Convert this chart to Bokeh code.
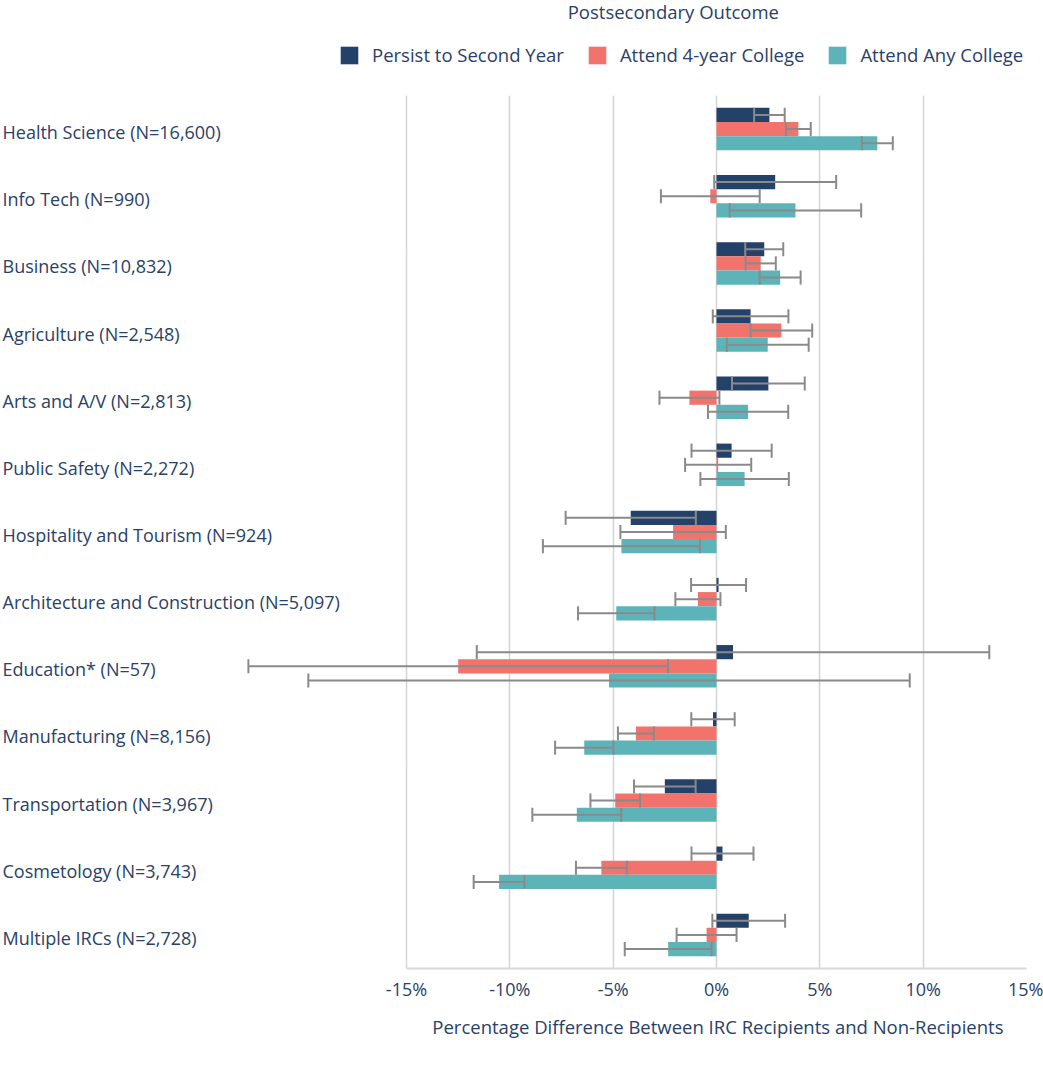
from bokeh.plotting import figure
from bokeh.layouts import column
from bokeh.models import (ColumnDataSource, FactorRange, Range1d, FixedTicker, PrintfTickFormatter,
                          Legend, LegendItem, Title)
from bokeh.core.properties import value
from bokeh.transform import dodge
from bokeh.embed import file_html
from bokeh.resources import INLINE

categories = ["Health Science (N=16,600)", "Info Tech (N=990)", "Business (N=10,832)",
              "Agriculture (N=2,548)", "Arts and A/V (N=2,813)", "Public Safety (N=2,272)",
              "Hospitality and Tourism (N=924)", "Architecture and Construction (N=5,097)",
              "Education* (N=57)", "Manufacturing (N=8,156)", "Transportation (N=3,967)",
              "Cosmetology (N=3,743)", "Multiple IRCs (N=2,728)"]

series_names = ["Persist to Second Year", "Attend 4-year College", "Attend Any College"]

persist = [2.56, 2.84, 2.31, 1.65, 2.51, 0.73, -4.15, 0.1, 0.8, -0.17, -2.5, 0.29, 1.56]
persist_err = [0.74, 2.95, 0.92, 1.83, 1.76, 1.94, 3.15, 1.33, 12.4, 1.05, 1.49, 1.5, 1.76]
four_year = [3.96, -0.3, 2.14, 3.14, -1.31, 0.08, -2.1, -0.9, -12.5, -3.9, -4.9, -5.57, -0.48]
four_year_err = [0.6, 2.39, 0.73, 1.49, 1.45, 1.6, 2.55, 1.09, 10.15, 0.87, 1.2, 1.23, 1.45]
any_college = [7.78, 3.82, 3.08, 2.48, 1.53, 1.36, -4.6, -4.85, -5.2, -6.4, -6.76, -10.52, -2.34]
any_college_err = [0.75, 3.18, 0.99, 1.98, 1.94, 2.14, 3.8, 1.85, 14.55, 1.41, 2.15, 1.23, 2.1]

x_ticks = [-15, -10, -5, 0, 5, 10, 15]
legend_title = "Postsecondary Outcome"
x_title = "Percentage Difference Between IRC Recipients and Non-Recipients"

FONT = "Open Sans"
TEXT = "#2a4168"
COLORS = ["#234169", "#f1736c", "#5cb4b9"]
OFFSETS = [0.211, 0.0, -0.211]
BAR_H = 0.211
CAP = 0.105
ERR_COLOR = "#8a8a8a"

W, H = 1043, 1074
HEAD_H = 95          # header (title + legend) height
PLOT_L, PLOT_R = 406, 1026
PX = (PLOT_R - PLOT_L) / 30.0
X_START = -15 - PLOT_L / PX
BOTTOM = 106

y_range = FactorRange(factors=list(reversed(categories)), range_padding=0)

# ---------------- main plot (frame spans the label column too) ----------------
p = figure(width=W, height=H - HEAD_H, output_backend="svg", toolbar_location=None,
           y_range=y_range, x_range=Range1d(X_START, 15),
           min_border_left=0, min_border_right=W - PLOT_R, min_border_top=0,
           min_border_bottom=BOTTOM)
p.outline_line_color = None
p.background_fill_color = "white"
p.border_fill_color = "white"

for name, vals, errs, color, off in zip(series_names,
                                        [persist, four_year, any_college],
                                        [persist_err, four_year_err, any_college_err],
                                        COLORS, OFFSETS):
    src = ColumnDataSource(dict(
        cat=categories, val=vals,
        lo=[v - e for v, e in zip(vals, errs)],
        hi=[v + e for v, e in zip(vals, errs)],
    ))
    p.hbar(y=dodge("cat", off, range=y_range), left=0, right="val", height=BAR_H,
           source=src, fill_color=color, line_color=None)
    p.segment(x0="lo", x1="hi", y0=dodge("cat", off, range=y_range),
              y1=dodge("cat", off, range=y_range), source=src,
              line_color=ERR_COLOR, line_width=2)
    p.segment(x0="lo", x1="lo", y0=dodge("cat", off - CAP, range=y_range),
              y1=dodge("cat", off + CAP, range=y_range), source=src,
              line_color=ERR_COLOR, line_width=2)
    p.segment(x0="hi", x1="hi", y0=dodge("cat", off - CAP, range=y_range),
              y1=dodge("cat", off + CAP, range=y_range), source=src,
              line_color=ERR_COLOR, line_width=2)

# category labels, left aligned at the left edge
cat_src = ColumnDataSource(dict(cat=categories))
p.text(x=X_START, y="cat", text="cat", source=cat_src, x_offset=2, y_offset=3,
       text_align="left", text_baseline="middle", text_font=value(FONT),
       text_font_size=value("18px"), text_color=TEXT)

p.yaxis.visible = False
p.ygrid.grid_line_color = None
p.xgrid.grid_line_color = "#d4d4d4"
p.xgrid.grid_line_width = 1.5
p.xaxis.ticker = FixedTicker(ticks=x_ticks)
p.xgrid.ticker = FixedTicker(ticks=x_ticks)
p.xaxis.bounds = (-15, 15)
p.xaxis.formatter = PrintfTickFormatter(format="%d%%")
p.xaxis.major_tick_out = 0
p.xaxis.major_tick_in = 0
p.xaxis.minor_tick_out = 0
p.xaxis.minor_tick_in = 0
p.xaxis.axis_line_color = "#d9d9d9"
p.xaxis.axis_line_width = 2
p.xaxis.major_label_standoff = 8
p.xaxis.major_label_text_font = FONT
p.xaxis.major_label_text_font_size = "18px"
p.xaxis.major_label_text_color = TEXT

p.add_layout(Title(text=x_title, align="right", offset=W - PLOT_R + 6, standoff=16,
                   text_font=FONT, text_font_size="18.5px", text_font_style="normal",
                   text_color=TEXT), "below")

# ---------------- header: title + legend ----------------
head = figure(width=W, height=HEAD_H, output_backend="svg", toolbar_location=None,
              x_range=Range1d(0, W), y_range=Range1d(0, HEAD_H),
              min_border_left=0, min_border_right=0, min_border_top=0, min_border_bottom=0)
head.outline_line_color = None
head.axis.visible = False
head.grid.visible = False
head.text(x=[684], y=[HEAD_H - 11], text=[legend_title], text_align="center",
          text_baseline="alphabetic", text_font=value(FONT), text_font_size=value("18.5px"),
          text_color=TEXT)
dummies = [head.hbar(y=[0], left=[0], right=[0], height=[0], fill_color=c, line_color=None)
           for c in COLORS]
legend = Legend(items=[LegendItem(label=n, renderers=[r]) for n, r in zip(series_names, dummies)],
                orientation="horizontal", location=(338, 28),
                glyph_width=22, glyph_height=22, label_height=22, label_standoff=12,
                spacing=22, padding=0, margin=0,
                label_text_font=FONT, label_text_font_size="18.5px", label_text_color=TEXT,
                border_line_color=None, background_fill_alpha=0)
head.add_layout(legend, "center")

layout = column(head, p)
open("out.html", "w").write(file_html(layout, INLINE))
